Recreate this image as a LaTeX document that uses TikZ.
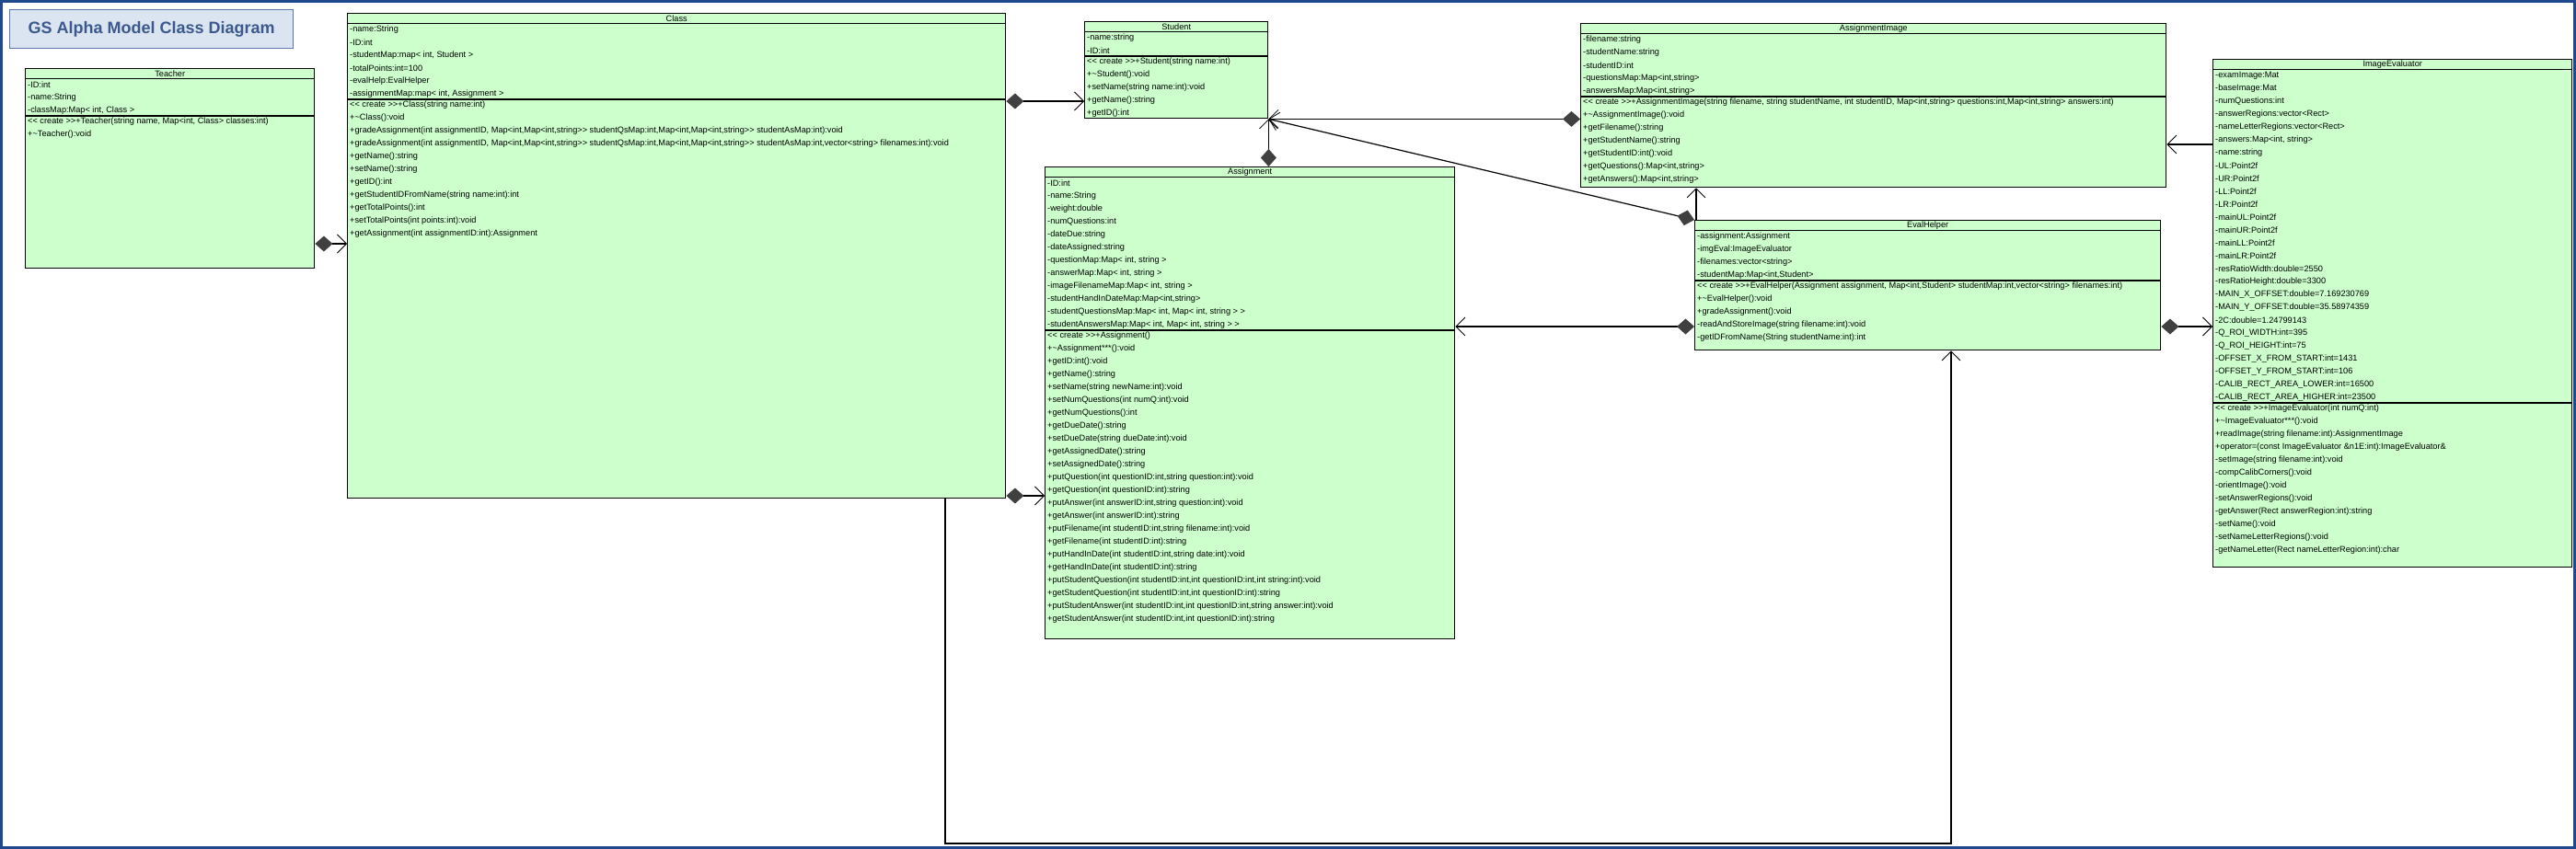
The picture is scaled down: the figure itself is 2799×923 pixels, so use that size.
\documentclass[tikz,border=0pt]{standalone}
\usepackage{fontspec}
\setmainfont{Liberation Sans}[Ligatures=TeXOff]
\usetikzlibrary{arrows.meta,calc}
\definecolor{boxgreen}{RGB}{204,255,204}
\definecolor{titlefill}{RGB}{219,229,241}
\definecolor{titleline}{RGB}{90,120,170}
\definecolor{titletext}{RGB}{59,89,140}
\definecolor{frameblue}{RGB}{31,73,140}
\definecolor{diamondgray}{RGB}{64,64,64}
\tikzset{
  classbox/.style={draw=black, line width=1.4pt, fill=boxgreen, anchor=north west, inner sep=0pt},
  titlebox/.style={draw=titleline, line width=1.2pt, fill=titlefill, anchor=north west,
    minimum width=308pt, minimum height=42pt, text=titletext, font=\fontsize{18}{20}\selectfont\bfseries},
  head/.style={font=\fontsize{9.2}{11}\selectfont, inner sep=0pt},
  row/.style={font=\fontsize{9.2}{11}\selectfont, anchor=west, inner sep=0pt},
  sepline/.style={line width=1.2pt},
  comp/.style={line width=1.2pt, {Diamond[length=19pt,width=17pt,color=diamondgray]}-{Straight Barb[length=10pt,width=20pt,line width=0.8pt]}},
  assoc/.style={line width=1.2pt, -{Straight Barb[length=10pt,width=20pt,line width=0.8pt]}}
}
\begin{document}
\begin{tikzpicture}[x=1pt,y=-1pt]
	\useasboundingbox (0,0) rectangle (2799,923);
	% Rahmen
	\draw [frameblue, line width=3pt] (1.5,1.5) rectangle (2797.5,921.5);
	% Titel
	\node [titlebox] (title) at (10,10) {GS Alpha Model Class Diagram};

	% Teacher
	\node [classbox, minimum width=314, minimum height=217] (teacher) at (27,74) {};
	\node [head] at ($(teacher.north)+(0,6)$) {Teacher};
	\draw [sepline] (27,85.5) -- (341,85.5);
	\draw [sepline] (27,126) -- (341,126);
	\foreach \t [count=\i] in {{-ID:int},{-name:String},{-classMap:Map< int, Class >}}
		\node [row] at (30,{92+14*(\i-1)}) {\t};
	\foreach \t [count=\i] in {{<< create >>+Teacher(string name, Map<int, Class> classes:int)},{+\textasciitilde Teacher():void}}
		\node [row] at (30,{132.5+14*(\i-1)}) {\t};

	% Class
	\node [classbox, minimum width=715, minimum height=527] (class) at (377,14) {};
	\node [head] at ($(class.north)+(0,6)$) {Class};
	\draw [sepline] (377,25.5) -- (1092,25.5);
	\draw [sepline] (377,108) -- (1092,108);
	\foreach \t [count=\i] in {{-name:String},{-ID:int},{-studentMap:map< int, Student >},{-totalPoints:int=100},{-evalHelp:EvalHelper},{-assignmentMap:map< int, Assignment >}}
		\node [row] at (380,{32+14*(\i-1)}) {\t};
	\foreach \t [count=\i] in {{<< create >>+Class(string name:int)},{+\textasciitilde Class():void},
		{+gradeAssignment(int assignmentID, Map<int,Map<int,string>> studentQsMap:int,Map<int,Map<int,string>> studentAsMap:int):void},
		{+gradeAssignment(int assignmentID, Map<int,Map<int,string>> studentQsMap:int,Map<int,Map<int,string>> studentAsMap:int,vector<string> filenames:int):void},
		{+getName():string},{+setName():string},{+getID():int},{+getStudentIDFromName(string name:int):int},
		{+getTotalPoints():int},{+setTotalPoints(int points:int):void},{+getAssignment(int assignmentID:int):Assignment}}
		\node [row] at (380,{114.5+14*(\i-1)}) {\t};

	% Student
	\node [classbox, minimum width=199, minimum height=105] (student) at (1178,23) {};
	\node [head] at ($(student.north)+(0,6)$) {Student};
	\draw [sepline] (1178,34.5) -- (1377,34.5);
	\draw [sepline] (1178,61) -- (1377,61);
	\foreach \t [count=\i] in {{-name:string},{-ID:int}}
		\node [row] at (1181,{41+14*(\i-1)}) {\t};
	\foreach \t [count=\i] in {{<< create >>+Student(string name:int)},{+\textasciitilde Student():void},{+setName(string name:int):void},{+getName():string},{+getID():int}}
		\node [row] at (1181,{67.5+14*(\i-1)}) {\t};

	% Assignment
	\node [classbox, minimum width=445, minimum height=513] (assignment) at (1135,181) {};
	\node [head] at ($(assignment.north)+(0,6)$) {Assignment};
	\draw [sepline] (1135,192.5) -- (1580,192.5);
	\draw [sepline] (1135,359) -- (1580,359);
	\foreach \t [count=\i] in {{-ID:int},{-name:String},{-weight:double},{-numQuestions:int},{-dateDue:string},{-dateAssigned:string},
		{-questionMap:Map< int, string >},{-answerMap:Map< int, string >},{-imageFilenameMap:Map< int, string >},
		{-studentHandInDateMap:Map<int,string>},{-studentQuestionsMap:Map< int, Map< int, string > >},{-studentAnswersMap:Map< int, Map< int, string > >}}
		\node [row] at (1138,{199+14*(\i-1)}) {\t};
	\foreach \t [count=\i] in {{<< create >>+Assignment()},{+\textasciitilde Assignment***():void},{+getID:int():void},{+getName():string},
		{+setName(string newName:int):void},{+setNumQuestions(int numQ:int):void},{+getNumQuestions():int},{+getDueDate():string},
		{+setDueDate(string dueDate:int):void},{+getAssignedDate():string},{+setAssignedDate():string},
		{+putQuestion(int questionID:int,string question:int):void},{+getQuestion(int questionID:int):string},
		{+putAnswer(int answerID:int,string question:int):void},{+getAnswer(int answerID:int):string},
		{+putFilename(int studentID:int,string filename:int):void},{+getFilename(int studentID:int):string},
		{+putHandInDate(int studentID:int,string date:int):void},{+getHandInDate(int studentID:int):string},
		{+putStudentQuestion(int studentID:int,int questionID:int,int string:int):void},
		{+getStudentQuestion(int studentID:int,int questionID:int):string},
		{+putStudentAnswer(int studentID:int,int questionID:int,string answer:int):void},
		{+getStudentAnswer(int studentID:int,int questionID:int):string}}
		\node [row] at (1138,{365.5+14*(\i-1)}) {\t};

	% AssignmentImage
	\node [classbox, minimum width=636, minimum height=178] (aimage) at (1717,25) {};
	\node [head] at ($(aimage.north)+(0,6)$) {AssignmentImage};
	\draw [sepline] (1717,36.5) -- (2353,36.5);
	\draw [sepline] (1717,105) -- (2353,105);
	\foreach \t [count=\i] in {{-filename:string},{-studentName:string},{-studentID:int},{-questionsMap:Map<int,string>},{-answersMap:Map<int,string>}}
		\node [row] at (1720,{43+14*(\i-1)}) {\t};
	\foreach \t [count=\i] in {{<< create >>+AssignmentImage(string filename, string studentName, int studentID, Map<int,string> questions:int,Map<int,string> answers:int)},
		{+\textasciitilde AssignmentImage():void},{+getFilename():string},{+getStudentName():string},{+getStudentID:int():void},
		{+getQuestions():Map<int,string>},{+getAnswers():Map<int,string>}}
		\node [row] at (1720,{111.5+14*(\i-1)}) {\t};

	% EvalHelper
	\node [classbox, minimum width=506, minimum height=141] (evalhelper) at (1841,239) {};
	\node [head] at ($(evalhelper.north)+(0,6)$) {EvalHelper};
	\draw [sepline] (1841,250.5) -- (2347,250.5);
	\draw [sepline] (1841,305) -- (2347,305);
	\foreach \t [count=\i] in {{-assignment:Assignment},{-imgEval:ImageEvaluator},{-filenames:vector<string>},{-studentMap:Map<int,Student>}}
		\node [row] at (1844,{257+14*(\i-1)}) {\t};
	\foreach \t [count=\i] in {{<< create >>+EvalHelper(Assignment assignment, Map<int,Student> studentMap:int,vector<string> filenames:int)},
		{+\textasciitilde EvalHelper():void},{+gradeAssignment():void},{-readAndStoreImage(string filename:int):void},{-getIDFromName(String studentName:int):int}}
		\node [row] at (1844,{311.5+14*(\i-1)}) {\t};

	% ImageEvaluator
	\node [classbox, minimum width=390, minimum height=552] (imgeval) at (2404,64) {};
	\node [head] at ($(imgeval.north)+(0,6)$) {ImageEvaluator};
	\draw [sepline] (2404,75.5) -- (2794,75.5);
	\draw [sepline] (2404,438) -- (2794,438);
	\foreach \t [count=\i] in {{-examImage:Mat},{-baseImage:Mat},{-numQuestions:int},{-answerRegions:vector<Rect>},{-nameLetterRegions:vector<Rect>},
		{-answers:Map<int, string>},{-name:string},{-UL:Point2f},{-UR:Point2f},{-LL:Point2f},{-LR:Point2f},{-mainUL:Point2f},{-mainUR:Point2f},
		{-mainLL:Point2f},{-mainLR:Point2f},{-resRatioWidth:double=2550},{-resRatioHeight:double=3300},{-MAIN\_X\_OFFSET:double=7.169230769},
		{-MAIN\_Y\_OFFSET:double=35.58974359},{-2C:double=1.24799143},{-Q\_ROI\_WIDTH:int=395},{-Q\_ROI\_HEIGHT:int=75},
		{-OFFSET\_X\_FROM\_START:int=1431},{-OFFSET\_Y\_FROM\_START:int=106},{-CALIB\_RECT\_AREA\_LOWER:int=16500},{-CALIB\_RECT\_AREA\_HIGHER:int=23500}}
		\node [row] at (2407,{82+14*(\i-1)}) {\t};
	\foreach \t [count=\i] in {{<< create >>+ImageEvaluator(int numQ:int)},{+\textasciitilde ImageEvaluator***():void},
		{+readImage(string filename:int):AssignmentImage},{+operator=(const ImageEvaluator \&n1E:int):ImageEvaluator\&},
		{-setImage(string filename:int):void},{-compCalibCorners():void},{-orientImage():void},{-setAnswerRegions():void},
		{-getAnswer(Rect answerRegion:int):string},{-setName():void},{-setNameLetterRegions():void},{-getNameLetter(Rect nameLetterRegion:int):char}}
		\node [row] at (2407,{444.5+14*(\i-1)}) {\t};

	% Verbindungen
	\draw [comp] (teacher.east |- 0,265) -- (class.west |- 0,265);
	\draw [comp] (class.east |- 0,110) -- (student.west |- 0,110);
	\draw [comp] (class.east |- 0,539) -- (assignment.west |- 0,539);
	\draw [comp] (student.south east |- assignment.north) -- (student.south east);
	\draw [comp] (aimage.west |- student.south east) -- (student.south east);
	\draw [comp] (evalhelper.north west) -- (student.south east);
	\coordinate (ehtop) at (1843,239);
	\draw [assoc] (ehtop) -- (ehtop |- aimage.south);
	\draw [comp] (evalhelper.west |- 0,355) -- (assignment.east |- 0,355);
	\draw [comp] (evalhelper.east |- 0,355) -- (imgeval.west |- 0,355);
	\draw [assoc] (imgeval.west |- 0,157) -- (aimage.east |- 0,157);
	\draw [assoc] (class.south -| 1027,0) -- (1027,917) -- (2120,917) -- (2120,0 |- evalhelper.south);
\end{tikzpicture}
\end{document}
